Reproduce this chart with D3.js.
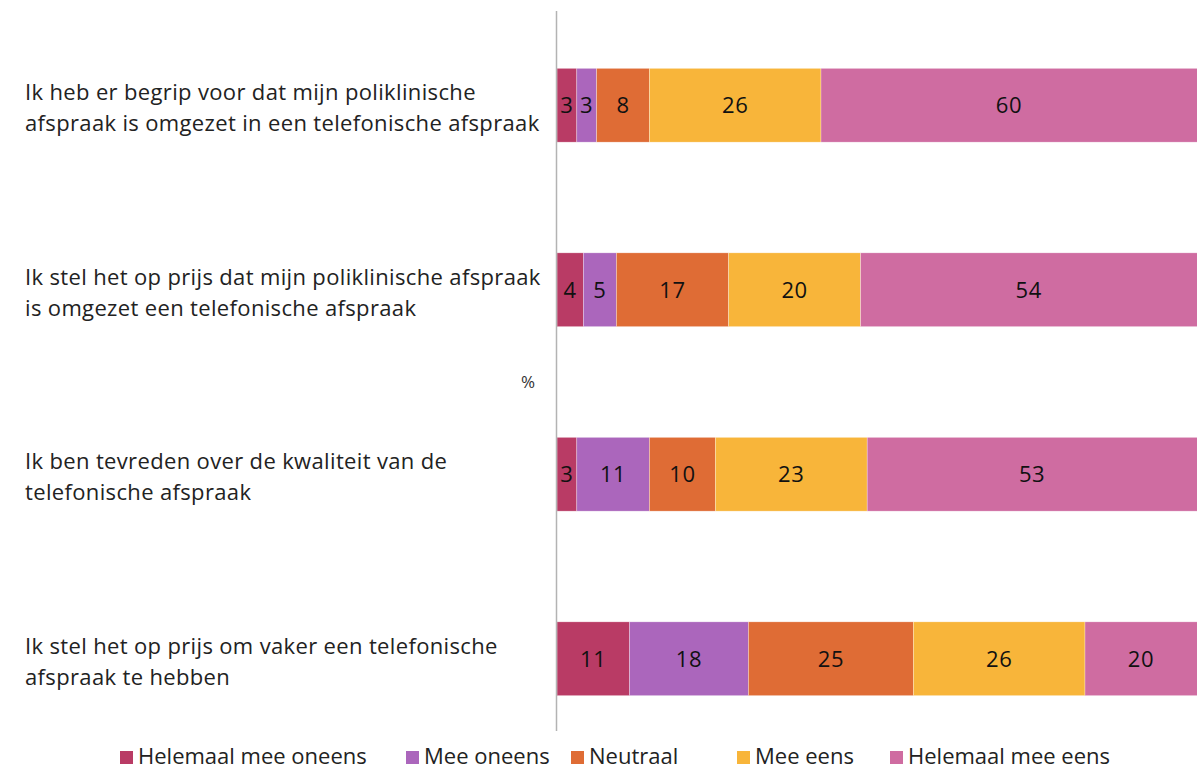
<!DOCTYPE html>
<html lang="nl">
<head>
<meta charset="UTF-8">
<title>Telefonische afspraak</title>
<script src="https://d3js.org/d3.v7.min.js"></script>
<style>
    body { margin: 0; background: #fff; overflow: hidden; }
    svg { display: block; font-family: "Open Sans", sans-serif; }
    .cat { font-size: 22px; fill: #222; letter-spacing: 0.35px; }
    .val { font-size: 22px; fill: #111; letter-spacing: 0.6px; }
    .leg { font-size: 22px; fill: #222; }
</style>
</head>
<body>
<div id="chart"></div>
<script>
// statements, top to bottom
const statements = [
    ["Ik heb er begrip voor dat mijn poliklinische", "afspraak is omgezet in een telefonische afspraak"],
    ["Ik stel het op prijs dat mijn poliklinische afspraak", "is omgezet een telefonische afspraak"],
    ["Ik ben tevreden over de kwaliteit van de", "telefonische afspraak"],
    ["Ik stel het op prijs om vaker een telefonische", "afspraak te hebben"]
];
const answers = ["Helemaal mee oneens", "Mee oneens", "Neutraal", "Mee eens", "Helemaal mee eens"];
const colors = ["#B93B65", "#AB66BC", "#DF6C35", "#F8B53A", "#CF6CA1"];

// percentages per statement, same order as answers
const helemaalOneens = [3, 4, 3, 11];
const meeOneens = [3, 5, 11, 18];
const neutraal = [8, 17, 10, 25];
const meeEens = [26, 20, 23, 26];
const helemaalEens = [60, 54, 53, 20];

const series = [helemaalOneens, meeOneens, neutraal, meeEens, helemaalEens];

const width = 1197, height = 769;
const svg = d3.select("#chart").append("svg")
    .attr("width", width)
    .attr("height", height);

const x = d3.scaleLinear().domain([0, 100]).range([557, 1217]);
const y = d3.scaleBand()
    .domain(d3.range(statements.length))
    .range([13, 751])
    .paddingInner(0.6)
    .paddingOuter(0.3);

// stack the values
const rows = statements.map((s, i) => {
    const r = { idx: i };
    answers.forEach((a, j) => r[a] = series[j][i]);
    return r;
});
const stacked = d3.stack().keys(answers)(rows);

const bars = svg.append("g");
stacked.forEach((layer, j) => {
    const g = bars.append("g").attr("fill", colors[j]);
    g.selectAll("rect")
        .data(layer)
        .enter().append("rect")
        .attr("x", d => x(d[0]))
        .attr("y", d => y(d.data.idx))
        .attr("width", d => x(d[1]) - x(d[0]))
        .attr("height", y.bandwidth())
        .attr("stroke", "#fff")
        .attr("stroke-opacity", 0.5)
        .attr("stroke-width", 0.6);
    g.selectAll("text")
        .data(layer)
        .enter().append("text")
        .attr("class", "val")
        .attr("x", d => Math.min((x(d[0]) + x(d[1])) / 2, (x(d[0]) + width) / 2))
        .attr("y", d => y(d.data.idx) + y.bandwidth() / 2)
        .attr("dy", "0.36em")
        .attr("text-anchor", "middle")
        .text(d => d[1] - d[0]);
});

// vertical axis line
svg.append("line")
    .attr("x1", 556.5).attr("x2", 556.5)
    .attr("y1", 11).attr("y2", 731)
    .attr("stroke", "#b3b3b3")
    .attr("stroke-width", 1.5);

// category labels
const labels = svg.append("g");
statements.forEach((lines, i) => {
    const cy = y(i) + y.bandwidth() / 2;
    const t = labels.append("text")
        .attr("class", "cat")
        .attr("x", 25)
        .attr("y", cy - 5);
    lines.forEach((ln, k) => {
        t.append("tspan")
            .attr("x", 25)
            .attr("dy", k === 0 ? 0 : 31)
            .text(ln);
    });
});

// axis title
svg.append("text")
    .attr("x", 528).attr("y", 382)
    .attr("dy", "0.36em")
    .attr("text-anchor", "middle")
    .attr("font-size", 17)
    .attr("fill", "#333")
    .text("%");

// legend
const legX = [120, 406, 571, 737, 890];
const legend = svg.append("g");
answers.forEach((a, j) => {
    legend.append("rect")
        .attr("x", legX[j]).attr("y", 751)
        .attr("width", 13).attr("height", 13)
        .attr("fill", colors[j]);
    legend.append("text")
        .attr("class", "leg")
        .attr("x", legX[j] + 18).attr("y", 764)
        .text(a);
});
</script>
</body>
</html>
